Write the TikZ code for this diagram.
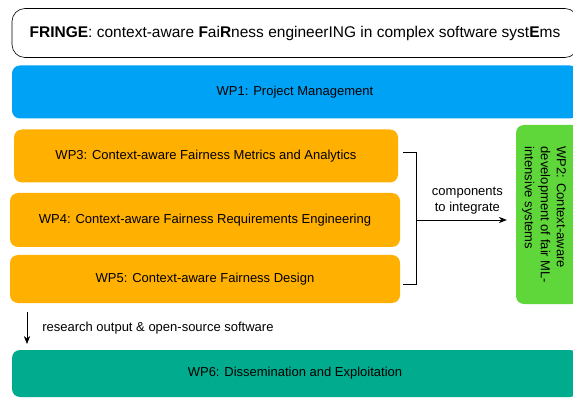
\documentclass[tikz,border=0pt]{standalone}
\usepackage{fontspec}
\setmainfont{Liberation Sans}
\usepackage{xcolor}
\definecolor{wpblue}{HTML}{00A2F5}
\definecolor{wporange}{HTML}{FFB000}
\definecolor{wpgreen}{HTML}{5FD73A}
\definecolor{wpteal}{HTML}{00AB8E}
\usetikzlibrary{arrows.meta, positioning}

\begin{document}
\begin{tikzpicture}[
      x=1pt, y=-1pt,
      %% Work-package boxes (filled, no outline)
      wp/.style={rectangle, rounded corners=8pt, draw=none,
                 align=center, inner sep=0pt,
                 font=\fontsize{13}{16}\selectfont},
      %% Project title frame
      titlebox/.style={rectangle, rounded corners=13pt, draw=black, semithick,
                       fill=white, align=center, inner sep=0pt,
                       font=\fontsize{15.5}{18}\selectfont},
      lbl/.style={font=\fontsize{13}{16}\selectfont, align=center, inner sep=1pt},
      arr/.style={-{Stealth[length=2.8mm, width=2.2mm]}, draw=black, semithick},
    ]
    \useasboundingbox (0,0) rectangle (573,398);

    %% ── Top rows ────────────────────────────────────────────────────────────
    \node[titlebox, minimum width=566pt, minimum height=49pt] (title)
      at (295,33)
      {\textbf{FRINGE}: context-aware \textbf{F}ai\textbf{R}ness
       engineerING in complex software syst\textbf{E}ms};

    \node[wp, fill=wpblue, minimum width=566pt, minimum height=53pt] (wp1)
      at (295,92) {WP1: Project Management};

    %% ── Research work packages ──────────────────────────────────────────────
    \node[wp, fill=wporange, minimum width=384pt, minimum height=53pt] (wp3)
      at (206,156) {WP3: Context-aware Fairness Metrics and Analytics};

    \node[wp, fill=wporange, minimum width=390pt, minimum height=54pt] (wp4)
      at (205,220) {WP4: Context-aware Fairness Requirements Engineering};

    \node[wp, fill=wporange, minimum width=390pt, minimum height=48pt] (wp5)
      at (205,279) {WP5: Context-aware Fairness Design};

    \node[wp, fill=wpgreen, minimum width=64pt, minimum height=179pt] (wp2)
      at (548,214.5) {};
    \node[lbl, rotate=-90, align=left] (wp2txt) at (544,215)
      {WP2: Context-aware\\development of fair ML-\\intensive systems};

    %% ── Dissemination ───────────────────────────────────────────────────────
    \node[wp, fill=wpteal, minimum width=566pt, minimum height=47pt] (wp6)
      at (295,373.5) {WP6: Dissemination and Exploitation};

    %% ── Connectors ──────────────────────────────────────────────────────────
    \coordinate (bt) at (403,152);
    \coordinate (bb) at (403,284);
    \coordinate (bm) at (416,220);
    \draw[semithick] (bt) -- ++(13,0) |- (bb);
    \draw[arr] (bm) -- ([xshift=-9pt]bm -| wp2.west)
      node[lbl, midway, above=5pt, xshift=6pt] {components\\to integrate};

    \coordinate (out) at (27,312);
    \draw[arr] (out) -- ++(0,32)
      node[lbl, midway, right=14pt, anchor=west] {research output \& open-source software};
  \end{tikzpicture}
\end{document}
